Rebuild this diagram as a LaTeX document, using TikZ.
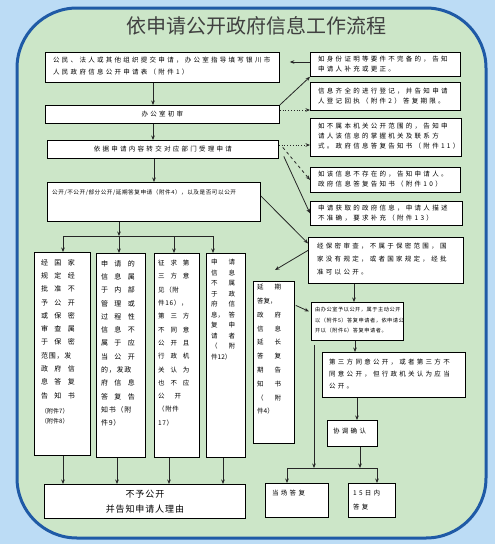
\documentclass[tikz,border=0pt]{standalone}
\usepackage{fontspec}
\setmainfont{Noto Sans CJK SC}
\newfontfamily\fa[LetterSpace=35]{Noto Sans CJK SC}
\newfontfamily\fb[LetterSpace=10]{Noto Sans CJK SC}
\newfontfamily\fv[LetterSpace=90]{Noto Sans CJK SC}
\newfontfamily\fn{Noto Sans CJK SC}
\usetikzlibrary{arrows.meta,calc}
\definecolor{bgblue}{HTML}{BCDCF5}
\definecolor{panelgreen}{HTML}{CCE6C8}
\definecolor{panelborder}{HTML}{1F5AA6}
\newcommand{\tw}[2]{\makebox[24pt][l]{#1\hfill#2}}
\begin{document}
\begin{tikzpicture}[x=1pt,y=-1pt,
  box/.style={draw=black, line width=0.8pt, fill=white, inner sep=0pt, anchor=north west},
  txt/.style={inner sep=0pt, anchor=north west, align=left, font=\fa\fontsize{6.5}{#1}\selectfont},
  txt/.default=10,
  vtxt/.style={inner sep=0pt, anchor=north west, align=left, font=\fv\fontsize{7}{13.3}\selectfont},
  arr/.style={-{Stealth[length=4.5pt,width=3.6pt]}, line width=0.8pt, draw=black!85},
  dotarr/.style={arr, dotted},
  dasharr/.style={arr, dashed}]
\useasboundingbox (0,0) rectangle (495,544);
\fill[bgblue] (0,0) rectangle (495,544);
\draw[fill=panelgreen, draw=panelborder, line width=3pt, rounded corners=60pt] (17,8) rectangle (486,538);
\node[font=\fn\fontsize{20}{20}\selectfont, text=black!75] (title) at (256,26) {依申请公开政府信息工作流程};
% left column
\node[box, minimum width=234pt, minimum height=30pt] (b1) at (45,52) {};
\node[txt=12] (b1t) at (53,57) {公民、法人或其他组织提交申请，办公室指导填写银川市\\人民政府信息公开申请表（附件1）};
\node[box, minimum width=234pt, minimum height=18pt, font=\fa\fontsize{6.5}{8}\selectfont] (b2) at (45,105) {办公室初审};
\node[box, minimum width=231pt, minimum height=18pt, font=\fa\fontsize{6.5}{8}\selectfont] (b3) at (47,140) {依据申请内容转交对应部门受理申请};
\node[box, minimum width=213pt, minimum height=39pt] (b4) at (47,182) {};
\node[inner sep=0pt, anchor=north west, font=\fb\fontsize{5.6}{7}\selectfont] (b4t) at (52,190) {公开/不公开/部分公开/延期答复申请（附件4），以及是否可以公开};
% vertical boxes
\node[box, minimum width=56pt, minimum height=203pt] (v1) at (34,252) {};
\node[vtxt] (v1t) at (41,259) {经国家\\规定经\\批准不\\予公开\\或保密\\审查属\\于保密\\{\fb 范围，发}\\政府信\\息答复\\告知书\\[2pt]{\fn\fontsize{6}{10}\selectfont （附件7）}\\[-3pt]{\fn\fontsize{6}{10}\selectfont （附件8）}};
\node[box, minimum width=49pt, minimum height=204pt] (v2) at (96,253) {};
\node[vtxt] (v2t) at (101,260) {申请的\\信息属\\于内部\\管理或\\过程性\\信息不\\属于应\\当公开\\{\fb 的，发政}\\府信息\\答复告\\{\fb 知书（附}\\{\fb 件9）}};
\node[box, minimum width=45pt, minimum height=204pt] (v3) at (154,253) {};
\node[vtxt, font=\fv\fontsize{6.5}{13.3}\selectfont] (v3t) at (158,260) {征求第\\三方意\\{\fb 见（附}\\{\fb 件16），}\\第三方\\不同意\\公开且\\行政机\\关认为\\也不应\\公\hspace{10pt}开\\{\fb （附件}\\{\fb 17）}};
\node[box, minimum width=39pt, minimum height=204pt] (v4) at (206,253) {};
\node[inner sep=0pt, anchor=north west, align=left, font=\fn\fontsize{6.5}{10.5}\selectfont] (v4t) at (211,259) {\tw{申}{请}\\\tw{信}{息}\\\tw{不}{属}\\\tw{于}{政}\\\tw{府}{信}\\\tw{息，}{答}\\\tw{复}{申}\\\tw{请}{者}\\\tw{（}{附}\\件12）};
\node[box, minimum width=41pt, minimum height=162pt] (v5) at (253,281) {};
\node[inner sep=0pt, anchor=north west, align=left, font=\fn\fontsize{6.5}{13.8}\selectfont] (v5t) at (257,284) {\tw{延}{期}\\答复，\\\tw{政}{府}\\\tw{信}{息}\\\tw{延}{长}\\\tw{答}{复}\\\tw{期}{告}\\\tw{知}{书}\\\tw{（}{附}\\件4）};
% bottom
\node[box, minimum width=201pt, minimum height=34pt, align=center, font=\fb\fontsize{9}{15}\selectfont] (nb) at (44,484) {不予公开\\并告知申请人理由};
% right column
\node[box, minimum width=150pt, minimum height=24pt] (r1) at (310,52) {};
\node[txt=9.5] (r1t) at (318,56) {如身份证明等要件不完备的，告知\\申请人补充或更正。};
\node[box, minimum width=150pt, minimum height=28pt] (r2) at (310,82) {};
\node[txt=10] (r2t) at (318,88) {信息齐全的进行登记，并告知申请\\人登记回执（附件2）答复期限。};
\node[box, minimum width=151pt, minimum height=38pt] (r3) at (310,118) {};
\node[txt=10] (r3t) at (318,123) {如不属本机关公开范围的，告知申\\请人该信息的掌握机关及联系方\\式。政府信息答复告知书（附件11）};
\node[box, minimum width=150pt, minimum height=25pt] (r4) at (310,167) {};
\node[txt=10] (r4t) at (318,171) {如该信息不存在的，告知申请人。\\政府信息答复告知书（附件10）};
\node[box, minimum width=152pt, minimum height=24pt] (r5) at (310,201) {};
\node[txt=9.5] (r5t) at (318,205) {申请获取的政府信息，申请人描述\\不准确，要求补充（附件13）};
\node[box, minimum width=155pt, minimum height=46pt] (r6) at (308,237) {};
\node[txt=13] (r6t) at (317,243) {经保密审查，不属于保密范围，国\\家没有规定，或者国家规定，经批\\准可以公开。};
\node[box, minimum width=92pt, minimum height=38pt] (r7) at (311,302) {};
\node[inner sep=0pt, anchor=north west, align=left, font=\fb\fontsize{5.2}{10.5}\selectfont] (r7t) at (315,307) {由办公室予以公开，属于主动公开\\以（附件5）答复申请者，依申请公\\开以（附件6）答复申请者。};
\node[box, minimum width=143pt, minimum height=45pt] (r8) at (322,352) {};
\node[txt=12] (r8t) at (329,359) {第三方同意公开，或者第三方不\\同意公开，但行政机关认为应当\\公开。};
\node[box, minimum width=50pt, minimum height=26pt] (r9) at (327,420) {};
\node[txt] (r9t) at (333,428) {协调确认};
\node[box, minimum width=63pt, minimum height=34pt] (d1) at (265,483) {};
\node[txt] (d1t) at (272,490) {当场答复};
\node[box, minimum width=47pt, minimum height=34pt] (d2) at (348,483) {};
\node[txt=14] (d2t) at (353,490) {15日内\\答复};
% connectors left
\draw[arr] (b1.south -| 153,0) -- (b2.north -| 153,0);
\draw[arr] (b2.south -| 153,0) -- (b3.north -| 153,0);
\draw[arr] (b3.south -| 154,0) -- (b4.north -| 154,0);
\coordinate (barA) at (63,236);
\coordinate (barB) at (213,236);
\draw[arr] (b4.south -| 119,0) -- (119,236);
\draw[line width=0.8pt, draw=black!85] (barA) -- (barB);
\draw[arr] (barA) -- (v1.north -| barA);
\draw[arr] (119,236) -- (v2.north -| 119,0);
\draw[arr] (174,236) -- (v3.north -| 174,0);
\draw[arr] (barB) -- (v4.north -| barB);
\draw[arr] (v1.south -| 63,0) -- (nb.north -| 63,0);
\draw[arr] (v2.south -| 117,0) -- (nb.north -| 117,0);
\draw[arr] (v3.south -| 169,0) -- (nb.north -| 169,0);
\draw[arr] (v4.south -| 223,0) -- (nb.north -| 223,0);
% connectors to right
\draw[arr, shorten >=10pt] (r1.west |- 0,62) -- (b1.east |- 0,62);
\draw[arr] (b2.north east) -- (r1.south west);
\draw[dotarr] (b2.east |- 0,110) -- (r2.west |- 0,110);
\draw[dotarr] (b3.east |- 0,145) -- (r3.west |- 0,145);
\draw[dasharr] ($(b3.east)+(4,-2)$) -- (r4.west);
\draw[arr] ($(b3.east)+(5,7)$) -- (r5.west);
\draw[arr] ($(b4.east)+(0,-6)$) -- ($(r6.west)+(0,-17)$);
\coordinate (v5in) at (275,270);
\draw[arr] ($(r6.west)+(0,-10)$) -- (v5in);
\draw[arr] ($(v5.east)+(1,-57)$) -- ($(r7.west)+(-2,-10)$);
\draw[arr] (r6.south -| 354,0) -- (r7.north -| 354,0);
\draw[arr] (r7.south -| 355,0) -- (r8.north -| 355,0);
\draw[arr] (r8.south -| 357,0) -- (r9.north -| 357,0);
\coordinate (barL) at (287,468);
\coordinate (barR) at (377,468);
\draw[line width=0.8pt, draw=black!85] (barL) -- (barR);
\draw[arr, shorten <=4pt] (r7.south -| 314,0) -- (314,468);
\draw[arr] (r9.south -| 360,0) -- (360,468);
\draw[arr] (barL) -- (d1.north -| barL);
\draw[arr] (barR) -- (d2.north -| barR);
\end{tikzpicture}
\end{document}
